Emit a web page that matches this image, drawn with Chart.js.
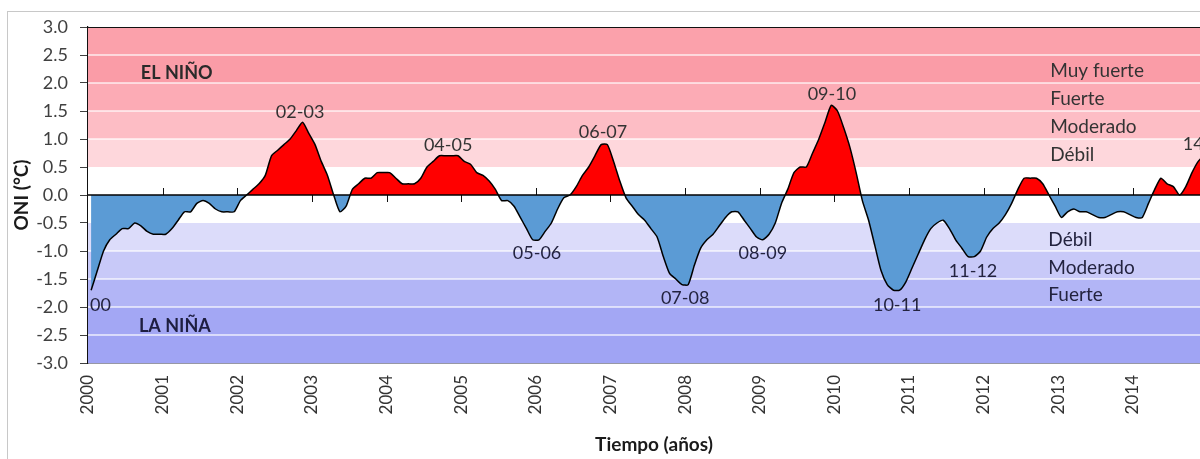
<!DOCTYPE html>
<html><head><meta charset="utf-8">
<script src="https://cdn.jsdelivr.net/npm/chart.js@4.4.1/dist/chart.umd.min.js"></script>
<style>
html,body{margin:0;padding:0;width:1200px;height:459px;overflow:hidden;background:#fff;}
#frame{position:absolute;left:7px;top:11px;width:1300px;height:500px;border-left:1px solid #c8c8c8;border-top:1px solid #c8c8c8;}
#c{position:absolute;left:0;top:0;}
</style></head><body>
<div id="frame"></div>
<canvas id="c" width="1232" height="459"></canvas>
<script>
// Year tick labels (one tick per January)
const yearLabels = ['2000','2001','2002','2003','2004','2005','2006','2007','2008','2009','2010','2011','2012','2013','2014'];
// Monthly ONI values (°C)
const oni2000 = [-1.7,-1.35,-1.0,-0.8,-0.7,-0.6,-0.6,-0.5,-0.55,-0.65,-0.7,-0.7];
const oni2001 = [-0.7,-0.6,-0.45,-0.3,-0.3,-0.15,-0.1,-0.15,-0.25,-0.3,-0.3,-0.3];
const oni2002 = [-0.1,0.0,0.1,0.2,0.35,0.7,0.8,0.9,1.0,1.15,1.3,1.1];
const oni2003 = [0.9,0.6,0.35,0.0,-0.3,-0.2,0.1,0.2,0.3,0.3,0.4,0.4];
const oni2004 = [0.4,0.3,0.2,0.2,0.2,0.3,0.5,0.6,0.7,0.7,0.7,0.7];
const oni2005 = [0.6,0.55,0.4,0.35,0.25,0.1,-0.1,-0.1,-0.2,-0.4,-0.6,-0.8];
const oni2006 = [-0.8,-0.65,-0.5,-0.25,-0.05,0.0,0.15,0.35,0.5,0.7,0.9,0.9];
const oni2007 = [0.6,0.25,-0.05,-0.2,-0.35,-0.45,-0.6,-0.75,-1.1,-1.4,-1.5,-1.6];
const oni2008 = [-1.6,-1.25,-0.95,-0.8,-0.7,-0.55,-0.4,-0.3,-0.3,-0.45,-0.6,-0.75];
const oni2009 = [-0.8,-0.7,-0.5,-0.15,0.1,0.4,0.5,0.5,0.75,1.0,1.3,1.6];
const oni2010 = [1.5,1.2,0.85,0.4,-0.1,-0.45,-0.9,-1.35,-1.6,-1.7,-1.7,-1.55];
const oni2011 = [-1.3,-1.05,-0.8,-0.6,-0.5,-0.45,-0.6,-0.8,-0.95,-1.1,-1.1,-1.0];
const oni2012 = [-0.75,-0.6,-0.5,-0.35,-0.15,0.1,0.3,0.3,0.3,0.2,0.0,-0.2];
const oni2013 = [-0.4,-0.3,-0.25,-0.3,-0.3,-0.35,-0.4,-0.4,-0.35,-0.3,-0.3,-0.35];
const oni2014 = [-0.4,-0.4,-0.15,0.1,0.3,0.2,0.15,0.0,0.15,0.4,0.6,0.7];
const oni2015 = [0.7,0.65];
const oni = [].concat(oni2000,oni2001,oni2002,oni2003,oni2004,oni2005,oni2006,oni2007,
  oni2008,oni2009,oni2010,oni2011,oni2012,oni2013,oni2014,oni2015);

// Intensity bands (°C)
const bandEdges  = [3.0,2.5,2.0,1.5,1.0,0.5,-0.5,-1.0,-1.5,-2.0,-2.5,-3.0];
const bandColors = ['#fba1ab','#fa9ca7','#fcabb5','#fdbdc5','#fed7dc','#ffffff',
                    '#dcdcfa','#c8c9f8','#b2b5f6','#a3a7f4','#a0a4f4'];
const bandSeparators = [2.5,2.0,1.5,1.0,-1.0,-1.5,-2.0,-2.5];

// Event labels: [text, month index, value]
const eventLabels = [
  ['02-03',33.6,1.48],['04-05',57.4,0.89],['06-07',82.3,1.12],['05-06',71.7,-1.04],
  ['07-08',95.5,-1.84],['08-09',108,-1.04],['09-10',119.1,1.80],['10-11',129.6,-1.96],
  ['11-12',141.8,-1.36],['14-15',179.4,0.91]
];
const phaseLabels = [['EL NIÑO',8.0,2.18],['LA NIÑA',7.7,-2.34]];
const strengthLabels = [
  ['Muy fuerte',154.2,2.21],['Fuerte',154.2,1.71],['Moderado',154.2,1.21],['Débil',154.2,0.71],
  ['Débil',153.9,-0.80],['Moderado',153.9,-1.30],['Fuerte',153.9,-1.79]
];

const FONT = 'Lato';
const N = oni.length;

const decor = {
  id:'decor',
  beforeDatasetsDraw(chart){
    const {ctx, chartArea:a, scales:{x,y}} = chart;
    ctx.save();
    for (let k=0;k<bandColors.length;k++){
      const y1=y.getPixelForValue(bandEdges[k]), y2=y.getPixelForValue(bandEdges[k+1]);
      ctx.fillStyle=bandColors[k];
      ctx.fillRect(a.left,y1,a.right-a.left,y2-y1);
    }
    ctx.strokeStyle='rgba(255,255,255,0.8)'; ctx.lineWidth=1.5;
    bandSeparators.forEach(v=>{
      const py=y.getPixelForValue(v);
      ctx.beginPath(); ctx.moveTo(a.left,py); ctx.lineTo(a.right,py); ctx.stroke();
    });
    const y0=y.getPixelForValue(0);
    ctx.strokeStyle='#111'; ctx.lineWidth=1;
    yearLabels.forEach((_,k)=>{
      if(k===0) return;
      const px=Math.round(x.getPixelForValue(12*k-0.5))+0.5;
      ctx.beginPath(); ctx.moveTo(px,y0-7); ctx.lineTo(px,y0+7); ctx.stroke();
    });
    ctx.restore();
  },
  afterDatasetsDraw(chart){
    const {ctx, chartArea:a, scales:{x,y}} = chart;
    ctx.save();
    const y0=y.getPixelForValue(0);
    ctx.strokeStyle='#000'; ctx.lineWidth=1.5;
    ctx.beginPath(); ctx.moveTo(a.left,y0); ctx.lineTo(a.right,y0); ctx.stroke();
    ctx.lineWidth=1.2; ctx.strokeStyle='#111';
    ctx.beginPath(); ctx.moveTo(a.left,a.top+0.5); ctx.lineTo(a.right,a.top+0.5); ctx.stroke();
    ctx.textBaseline='middle';
    ctx.textAlign='center'; ctx.font='18px '+FONT;
    eventLabels.forEach(([t,i,v])=>{
      ctx.fillStyle = v<0 ? '#23233f' : '#333333';
      ctx.fillText(t,x.getPixelForValue(i),y.getPixelForValue(v));
    });
    ctx.textAlign='left';
    ctx.fillStyle='#23233f';
    ctx.fillText('00',x.getPixelForValue(-0.18),y.getPixelForValue(-1.96));
    ctx.font='bold 18px '+FONT;
    phaseLabels.forEach(([t,i,v])=>{
      ctx.fillStyle = v<0 ? '#1e1e40' : '#2a2a2a';
      ctx.fillText(t,x.getPixelForValue(i),y.getPixelForValue(v));
    });
    ctx.font='19px '+FONT;
    strengthLabels.forEach(([t,i,v])=>{
      ctx.fillStyle = v<0 ? '#23233f' : '#333333';
      ctx.fillText(t,x.getPixelForValue(i),y.getPixelForValue(v));
    });
    ctx.restore();
  }
};

new Chart(document.getElementById('c'), {
  type:'line',
  data:{datasets:[{
    data: oni.map((v,i)=>({x:i,y:v})),
    borderColor:'#000', borderWidth:1.5, pointRadius:0, tension:0.2,
    fill:{target:{value:0}, above:'#ff0000', below:'#5b9bd5'}
  }]},
  options:{
    responsive:false, animation:false,
    layout:{padding:{top:27,right:12,left:0,bottom:0}},
    plugins:{legend:{display:false}, tooltip:{enabled:false}},
    scales:{
      x:{
        type:'linear', min:-0.5, max:N-0.5,
        afterBuildTicks:s=>{ s.ticks = yearLabels.map((_,k)=>({value:12*k-0.5})); },
        afterFit:s=>{ s.height = 96; },
        ticks:{autoSkip:false, minRotation:90, maxRotation:90, padding:12,
          callback:(v,idx)=>yearLabels[idx], color:'#333333', font:{family:FONT,size:17}},
        grid:{display:false, drawTicks:false},
        border:{display:true, color:'#30304a', width:1.5},
        title:{display:true, text:'Tiempo (años)', color:'#1a1a1a',
          font:{family:FONT,size:19,weight:'bold'}, padding:{top:0,bottom:3}}
      },
      y:{
        min:-3, max:3,
        afterFit:s=>{ s.width = 88; },
        ticks:{stepSize:0.5, padding:12, callback:v=>v.toFixed(1), color:'#404040',
          font:{family:FONT,size:18}},
        grid:{drawOnChartArea:false, tickLength:8, color:'#404040'},
        border:{display:true, color:'#111', width:1.2},
        title:{display:true, text:'ONI (°C)', color:'#1a1a1a',
          font:{family:FONT,size:19,weight:'bold'}, padding:{top:10,bottom:0}}
      }
    }
  },
  plugins:[decor]
});
</script>
</body></html>
